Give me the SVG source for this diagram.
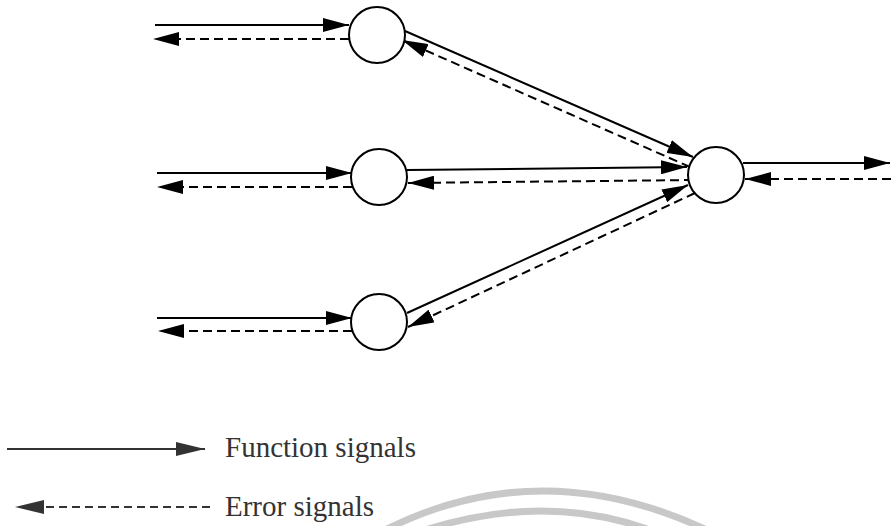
<svg xmlns="http://www.w3.org/2000/svg" width="891" height="526" viewBox="0 0 891 526">
<style>
.node{fill:#fff;stroke:#000;stroke-width:2}
.fn{stroke:#000;stroke-width:2;fill:none;marker-end:url(#ah)}
.err{stroke:#000;stroke-width:2;fill:none;stroke-dasharray:9 5;marker-end:url(#ah)}
.lfn{stroke:#333;stroke-width:2;fill:none;marker-end:url(#ahg)}
.lerr{stroke:#333;stroke-width:2;fill:none;stroke-dasharray:8 5;marker-end:url(#ahg)}
.lbl{font-family:"Liberation Serif","Times New Roman",serif;font-size:29px;fill:#333}
.wm{fill:none;stroke:#c8c8c8;stroke-width:7}
</style>
<defs>
<marker id="ah" markerUnits="userSpaceOnUse" markerWidth="27" markerHeight="14" refX="26" refY="7" orient="auto" viewBox="0 0 27 14">
<path d="M0,0 L26,7 L0,14 z" fill="#000"/>
</marker>
<marker id="ahg" markerUnits="userSpaceOnUse" markerWidth="30" markerHeight="14" refX="29" refY="7" orient="auto" viewBox="0 0 30 14">
<path d="M0,0 L29,7 L0,14 z" fill="#333"/>
</marker>
</defs>
<g id="watermark">
<path class="wm" d="M385,530 Q540,452 707,530"/>
<path class="wm" d="M425,530 Q545,492 650,530"/>
</g>
<g id="connectors">
<line class="fn" x1="155" y1="25" x2="349" y2="25"/>
<line class="err" x1="349" y1="39" x2="153" y2="39"/>
<line class="fn" x1="157" y1="173" x2="352" y2="173"/>
<line class="err" x1="352" y1="187" x2="157" y2="187"/>
<line class="fn" x1="157" y1="318" x2="352" y2="318"/>
<line class="err" x1="352" y1="331" x2="158" y2="331"/>
<line class="fn" x1="405" y1="31" x2="693" y2="157"/>
<line class="err" x1="690" y1="167" x2="402" y2="40"/>
<line class="fn" x1="407" y1="170" x2="687" y2="167"/>
<line class="err" x1="693" y1="180" x2="408" y2="183"/>
<line class="fn" x1="407" y1="313" x2="688" y2="185"/>
<line class="err" x1="695" y1="193" x2="408" y2="327"/>
<line class="fn" x1="743" y1="163" x2="890" y2="163"/>
<line class="err" x1="891" y1="179" x2="745" y2="179"/>
</g>
<g id="n1"><circle class="node" cx="377" cy="35" r="28"/></g>
<g id="n2"><circle class="node" cx="379" cy="177" r="28"/></g>
<g id="n3"><circle class="node" cx="379" cy="322" r="28"/></g>
<g id="out"><circle class="node" cx="716" cy="175" r="28"/></g>
<g id="legend">
<line class="lfn" x1="7" y1="449" x2="205" y2="449"/>
<text class="lbl" x="225" y="457">Function signals</text>
<line class="lerr" x1="210" y1="507" x2="15" y2="507"/>
<text class="lbl" x="225" y="516">Error signals</text>
</g>
</svg>
